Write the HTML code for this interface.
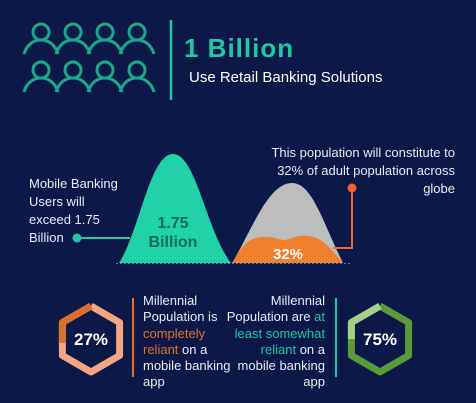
<!DOCTYPE html>
<html><head><meta charset="utf-8"><style>
body{margin:0;background:#0b1848;}
svg{display:block;font-family:"Liberation Sans",sans-serif;}
</style></head><body>
<svg width="476" height="403" viewBox="0 0 476 403">
<rect width="476" height="403" fill="#0b1848"/>
<g id="people" fill="none" stroke="#1aa88a" stroke-width="3"></g>
<line x1="171" y1="20" x2="171" y2="100" stroke="#1ec8a0" stroke-width="2.5"/>
<text x="184" y="57" fill="#1ec8a0" font-size="26" font-weight="bold" letter-spacing="1">1 Billion</text>
<text x="189" y="82" fill="#ffffff" font-size="15">Use Retail Banking Solutions</text>

<line x1="116" y1="263.5" x2="352" y2="263.5" stroke="#4a8aa0" stroke-width="1" stroke-dasharray="2,2"/>
<path d="M119 263 C140 230,150 154,173 154 C196 154,206 230,231 263 Z" fill="#21d1a8"/>
<path d="M232 263 C252 230,268 183,292 183 C312 183,322 220,343 263 Z" fill="#bdbdbd"/>
<path d="M232 263 C240 250,246 238,262 237 C275 236,278 240,284 240 C290 240,294 235,308 236 C322 237,330 248,343 263 Z" fill="#f07f2e"/>
<text x="173" y="228" fill="#0f6b5a" font-size="16" font-weight="bold" text-anchor="middle">1.75</text>
<text x="173" y="247" fill="#0f6b5a" font-size="16" font-weight="bold" text-anchor="middle">Billion</text>
<text x="288" y="259" fill="#ffffff" font-size="15" font-weight="bold" text-anchor="middle">32%</text>

<g fill="#e8ecf4" font-size="13">
<text x="29" y="188">Mobile Banking</text><text x="29" y="206">Users will</text><text x="29" y="224">exceed 1.75</text><text x="29" y="242">Billion</text></g>
<circle cx="77" cy="238" r="4.5" fill="#1ec8a0"/>
<line x1="77" y1="238" x2="130" y2="238" stroke="#1ec8a0" stroke-width="2"/>
<g fill="#e8ecf4" font-size="13" text-anchor="end">
<text x="455" y="157">This population will constitute to</text><text x="455" y="175">32% of adult population across</text><text x="455" y="193">globe</text></g>
<circle cx="352" cy="188" r="4.5" fill="#f0652e"/>
<polyline points="352,188 352,248 333,248" fill="none" stroke="#f0652e" stroke-width="2"/>

<g id="hexes"></g>
<line x1="133" y1="298" x2="133" y2="377" stroke="#e0702a" stroke-width="2"/>
<line x1="336" y1="298" x2="336" y2="377" stroke="#1ec8a0" stroke-width="2"/>
<g fill="#e8ecf4" font-size="13">
<text x="143" y="305">Millennial</text><text x="143" y="321">Population is</text>
<text x="143" y="338" fill="#e0702a">completely</text>
<text x="143" y="354"><tspan fill="#e0702a">reliant</tspan> on a</text>
<text x="143" y="370">mobile banking</text><text x="143" y="386">app</text></g>
<g fill="#e8ecf4" font-size="13" text-anchor="end">
<text x="325" y="305">Millennial</text>
<text x="325" y="321">Population are <tspan fill="#1ec8a0">at</tspan></text>
<text x="325" y="338" fill="#1ec8a0">least somewhat</text>
<text x="325" y="354"><tspan fill="#1ec8a0">reliant</tspan> on a</text>
<text x="325" y="370">mobile banking</text><text x="325" y="386">app</text></g>
</svg>
<script>
const statLabels=["27%","75%"];
const statValues=[27,75];
const ns="http://www.w3.org/2000/svg";
const pg=document.getElementById('people');
for(let r=0;r<2;r++)for(let c=0;c<4;c++){
  const x=41+c*32,y=32+r*38;
  const ci=document.createElementNS(ns,'circle');
  ci.setAttribute('cx',x);ci.setAttribute('cy',y);ci.setAttribute('r',8);
  
  
  pg.appendChild(ci);
  const p=document.createElementNS(ns,'path');
  p.setAttribute('d',`M${x-17} ${y+22} C${x-14} ${y+12},${x-7} ${y+8},${x} ${y+8} C${x+7} ${y+8},${x+14} ${y+12},${x+17} ${y+22}`);
  
  
  pg.appendChild(p);
}
const hg=document.getElementById('hexes');
const hexCfg=[{cx:91,cy:339,dark:"#d9702a",light:"#f4a582"},{cx:380,cy:339,dark:"#5a9a3a",light:"#a8cf8a"}];
function hexPath(cx,cy,r){
  let d="";
  for(let i=0;i<=6;i++){const a=-Math.PI/2-i*Math.PI/3;
    d+=(i?"L":"M")+(cx+r*Math.cos(a)).toFixed(1)+" "+(cy+r*Math.sin(a)).toFixed(1)+" ";}
  return d;
}
statValues.forEach((v,i)=>{
  const c=hexCfg[i];const d=hexPath(c.cx,c.cy,33);
  const base=document.createElementNS(ns,'path');
  base.setAttribute('d',d);base.setAttribute('fill','none');
  base.setAttribute('stroke',i===0?c.light:c.dark);base.setAttribute('stroke-width','7');
  base.setAttribute('stroke-linejoin','round');
  
  
  hg.appendChild(base);
  const arc=document.createElementNS(ns,'path');
  arc.setAttribute('d',d);arc.setAttribute('fill','none');
  arc.setAttribute('pathLength','100');
  const seg=i===0?v:100-v;
  arc.setAttribute('stroke-dasharray',seg+' 100');
  arc.setAttribute('stroke',i===0?c.dark:c.light);arc.setAttribute('stroke-width','7');
  arc.setAttribute('stroke-linejoin','round');
  
  
  hg.appendChild(arc);
  const t=document.createElementNS(ns,'text');
  t.setAttribute('x',c.cx);t.setAttribute('y',c.cy+6);t.setAttribute('text-anchor','middle');
  t.setAttribute('fill','#ffffff');t.setAttribute('font-size','17');t.setAttribute('font-weight','bold');
  t.textContent=statLabels[i];
  
  
  hg.appendChild(t);
});
</script>
</body></html>
